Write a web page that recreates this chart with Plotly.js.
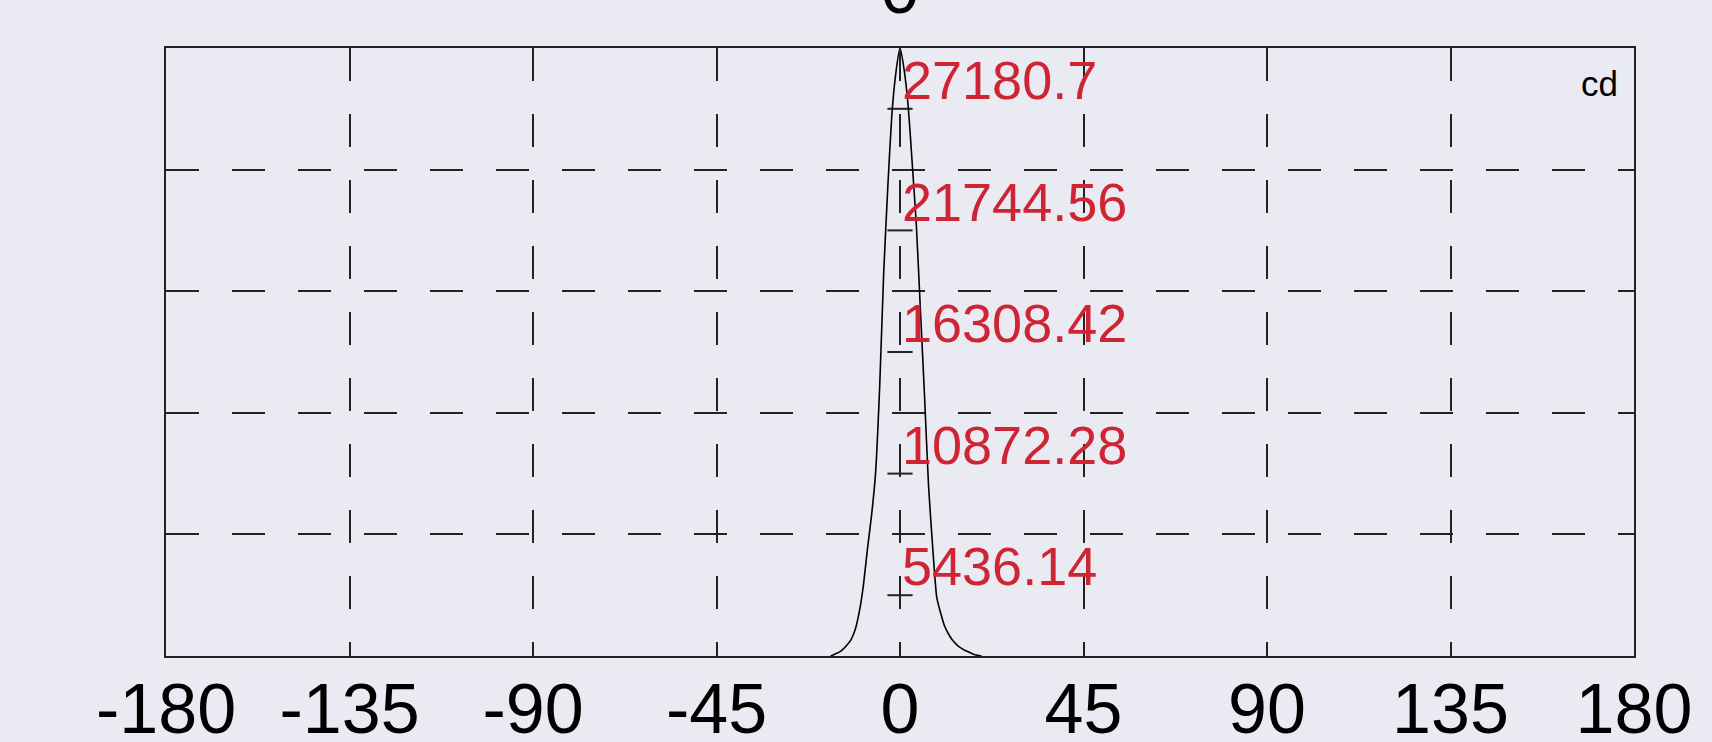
<!DOCTYPE html>
<html>
<head>
<meta charset="utf-8">
<script src="https://cdn.plot.ly/plotly-3.0.1.min.js"></script>
<style>
  html, body { margin: 0; padding: 0; background: #EAEAF2; }
  #chart { width: 1712px; height: 742px; }
</style>
</head>
<body>
<div id="chart"></div>
<script>
// Angle (degrees) and luminous intensity (cd)
const angles = [-17, -16, -15, -14, -13, -12, -11, -10, -9, -8, -7, -6, -5, -4, -3, -2, -1,
                0, 1, 2, 3, 4, 5, 6, 7, 8, 9, 10, 11, 12, 13, 14, 15, 16, 17, 18, 19, 20];
const intensity = [0, 82, 163, 299, 489, 734, 1169, 1957, 3126, 4757, 6252, 8154, 11960, 17124, 20929, 24191, 26094,
                   27180.7, 26230, 24598, 22017, 19298, 15493, 11688, 7611, 4893, 2637, 1903, 1305, 951, 680, 489, 353, 245, 163, 82, 27, 0];

// Tick labels / grid values
const xTicks = [-180, -135, -90, -45, 0, 45, 90, 135, 180];
const yGridVals = [5436.14, 10872.28, 16308.42, 21744.56, 27180.7];
const yGridLabels = ["5436.14", "10872.28", "16308.42", "21744.56", "27180.7"];
const yMax = 27180.7;
// small cross marks along the 0° line
const minorTickVals = [2718.07, 8154.21, 13590.35, 19026.49, 24462.63];
const unitLabel = "cd";
const titleText = "0";

const gridColor = "#222222";
const red = "#CF2434";

const traces = [
  {
    x: minorTickVals.map(() => 0),
    y: minorTickVals,
    type: "scatter",
    mode: "markers",
    marker: { symbol: "line-ew-open", size: 18, color: gridColor, line: { color: gridColor, width: 2 } },
    hoverinfo: "skip",
    showlegend: false
  },
  {
    x: angles,
    y: intensity,
    type: "scatter",
    mode: "lines",
    line: { color: "#000000", width: 1.6, shape: "spline", smoothing: 0.5 },
    showlegend: false
  }
];

const annotations = yGridVals.map((v, i) => ({
  x: 0, y: v, xref: "x", yref: "y",
  text: yGridLabels[i],
  showarrow: false,
  xanchor: "left", yanchor: "middle",
  xshift: 0, yshift: -32,
  font: { family: "Liberation Sans, Arial, sans-serif", size: 54, color: red }
}));
annotations.push({
  x: 1, y: 1, xref: "paper", yref: "paper",
  text: unitLabel, showarrow: false,
  xanchor: "right", yanchor: "top",
  xshift: -14, yshift: -14,
  font: { family: "Liberation Sans, Arial, sans-serif", size: 35, color: "#000000" }
});

const layout = {
  width: 1712, height: 742,
  margin: { l: 166, r: 78, t: 48, b: 86, pad: 0 },
  paper_bgcolor: "#EAEAF2",
  plot_bgcolor: "#EAEAF2",
  font: { family: "Liberation Sans, Arial, sans-serif", color: "#000000" },
  title: {
    text: titleText,
    x: 0.5, xref: "paper",
    y: 0.983, yref: "container", yanchor: "bottom",
    font: { size: 70, color: "#000000", family: "Liberation Sans, Arial, sans-serif" }
  },
  xaxis: {
    range: [-180, 180],
    tickmode: "array",
    tickvals: xTicks,
    ticktext: xTicks.map(String),
    showgrid: true,
    gridcolor: gridColor,
    gridwidth: 2,
    griddash: "33px,33px",
    zeroline: false,
    showline: true,
    linecolor: "#222222",
    linewidth: 2,
    mirror: "ticks",
    ticks: "inside",
    ticklen: 8,
    tickwidth: 2,
    tickcolor: "#222222",
    ticklabelstandoff: -9,
    tickfont: { size: 70, color: "#000000", family: "Liberation Sans, Arial, sans-serif" },
    fixedrange: true
  },
  yaxis: {
    range: [0, yMax],
    tickmode: "array",
    tickvals: yGridVals,
    showticklabels: false,
    showgrid: true,
    gridcolor: gridColor,
    gridwidth: 2,
    griddash: "33px,33px",
    zeroline: false,
    showline: true,
    linecolor: "#222222",
    linewidth: 2,
    mirror: true,
    ticks: "",
    fixedrange: true
  },
  annotations: annotations,
  showlegend: false
};

Plotly.newPlot("chart", traces, layout, { staticPlot: true, displayModeBar: false });
</script>
</body>
</html>
